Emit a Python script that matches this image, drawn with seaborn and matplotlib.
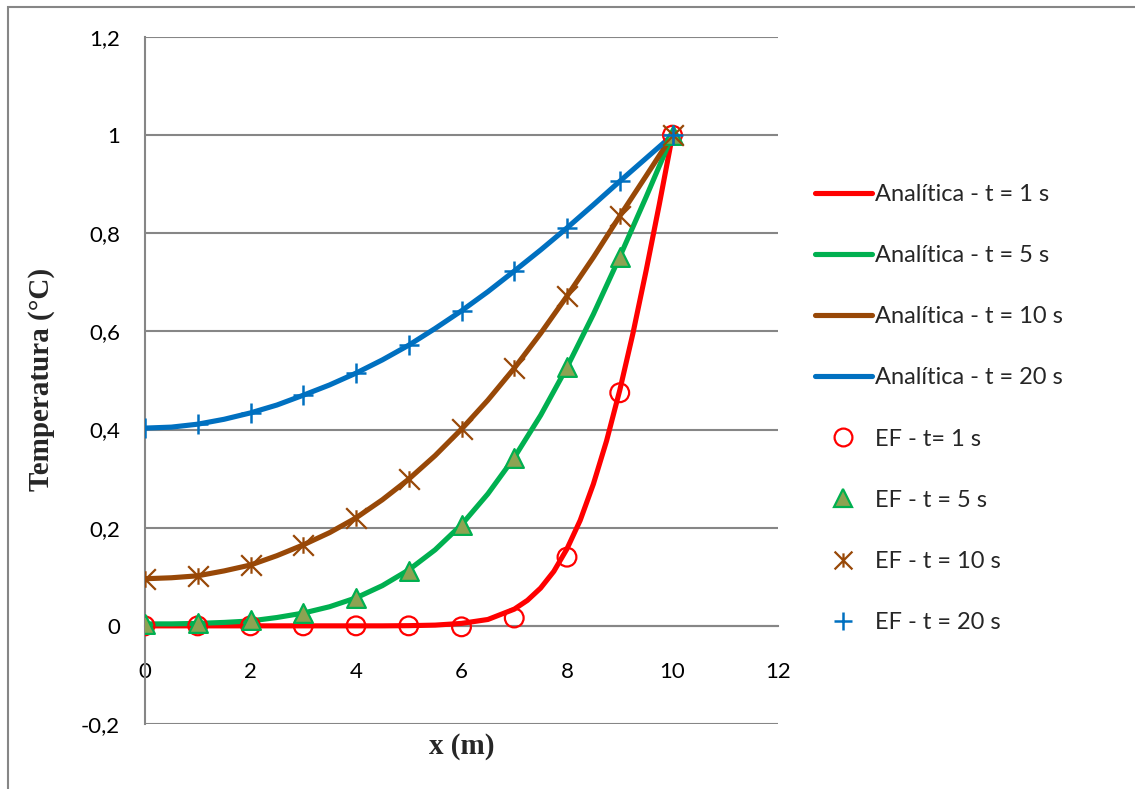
import numpy as np
import pandas as pd
import matplotlib
matplotlib.use("Agg")
import matplotlib.pyplot as plt
from matplotlib.lines import Line2D
from matplotlib.path import Path
from matplotlib.patches import Rectangle
import seaborn as sns

# ---------------- data ----------------
x_an = [0, 0.5, 1, 1.5, 2, 2.5, 3, 3.5, 4, 4.5, 5, 5.5, 6, 6.5, 7, 7.5, 8, 8.5, 9, 9.5, 10]
x_an1 = [0, 0.5, 1, 1.5, 2, 2.5, 3, 3.5, 4, 4.5, 5, 5.5, 6, 6.5, 7, 7.25, 7.5, 7.75,
         8, 8.25, 8.5, 8.75, 9, 9.25, 9.5, 9.75, 10]
an_t1 = [0, 0, 0, 0, 0, 0, 0, 0, 0, 0, 0.0004, 0.0015, 0.005, 0.013, 0.034, 0.052, 0.077, 0.111,
         0.157, 0.215, 0.289, 0.377, 0.480, 0.596, 0.724, 0.859, 1.0]
an_t5 = [0.004, 0.004, 0.005, 0.007, 0.010, 0.017, 0.026, 0.039, 0.057, 0.082, 0.114, 0.155,
         0.206, 0.269, 0.343, 0.429, 0.527, 0.635, 0.752, 0.874, 1.0]
an_t10 = [0.096, 0.098, 0.102, 0.112, 0.124, 0.143, 0.165, 0.190, 0.220, 0.257, 0.299, 0.347,
          0.401, 0.460, 0.525, 0.596, 0.672, 0.751, 0.835, 0.917, 1.0]
an_t20 = [0.403, 0.405, 0.411, 0.421, 0.434, 0.450, 0.470, 0.491, 0.515, 0.542, 0.572, 0.606,
          0.642, 0.681, 0.723, 0.766, 0.811, 0.858, 0.906, 0.953, 1.0]

x_ef = [0, 1, 2, 3, 4, 5, 6, 7, 8, 9, 10]
ef_t1 = [0.0, 0.0, 0.0, 0.0, 0.0, 0.0, -0.002, 0.016, 0.140, 0.475, 1.0]
ef_t5 = [0.004, 0.005, 0.012, 0.026, 0.057, 0.112, 0.206, 0.342, 0.527, 0.752, 1.0]
ef_t10 = [0.096, 0.102, 0.124, 0.165, 0.220, 0.299, 0.401, 0.525, 0.672, 0.835, 1.0]
ef_t20 = [0.403, 0.411, 0.434, 0.470, 0.515, 0.572, 0.642, 0.723, 0.811, 0.906, 1.0]

an_labels = ["Analítica - t = 1 s", "Analítica - t = 5 s", "Analítica - t = 10 s", "Analítica - t = 20 s"]
ef_labels = ["EF - t= 1 s", "EF - t = 5 s", "EF - t = 10 s", "EF - t = 20 s"]

y_ticks = [-0.2, 0, 0.2, 0.4, 0.6, 0.8, 1, 1.2]
y_ticklabels = ["-0,2", "0", "0,2", "0,4", "0,6", "0,8", "1", "1,2"]
x_ticks = [0, 2, 4, 6, 8, 10, 12]
x_ticklabels = ["0", "2", "4", "6", "8", "10", "12"]

xlabel = "x (m)"
ylabel = "Temperatura (°C)"

# ---------------- style ----------------
sns.set_theme(style="white")
plt.rcParams['font.family'] = ['Lato', 'DejaVu Sans']

RED = "#FF0000"
GREEN = "#00B050"
BROWN = "#984807"
BLUE = "#0070C0"
OLIVE = "#8CA352"
GRID = "#868686"

star_path = Path([(-1, -1), (1, 1), (-1, 1), (1, -1), (0, -0.8), (0, 0.8)],
                 [Path.MOVETO, Path.LINETO, Path.MOVETO, Path.LINETO, Path.MOVETO, Path.LINETO])

fig = plt.figure(figsize=(11.35, 7.89), dpi=100)
ax = fig.add_axes([145 / 1135, 1 - 724 / 789, (778 - 145) / 1135, (724 - 37) / 789])

lw = 3.7
an_series = [(x_an1, an_t1, RED), (x_an, an_t5, GREEN), (x_an, an_t10, BROWN), (x_an, an_t20, BLUE)]
for (xs, ys, c), lab in zip(an_series, an_labels):
    df = pd.DataFrame({"x": xs, "y": ys})
    sns.lineplot(data=df, x="x", y="y", ax=ax, color=c, linewidth=lw, sort=False,
                 solid_capstyle="round", zorder=3, legend=False)

ms = 13.5
# EF t=1 : open circles
sns.scatterplot(x=x_ef, y=ef_t1, ax=ax, marker="o", s=ms**2, facecolors="none",
                edgecolor=RED, linewidth=1.6, zorder=4, legend=False)
# EF t=5 : triangles
sns.scatterplot(x=x_ef, y=ef_t5, ax=ax, marker="^", s=ms**2, color=OLIVE,
                edgecolor=GREEN, linewidth=1.6, zorder=5, legend=False)
# EF t=10 : star (x with vertical bar)
sns.scatterplot(x=x_ef, y=ef_t10, ax=ax, marker=star_path, s=(ms * 1.1)**2, color=BROWN,
                edgecolor=BROWN, linewidth=1.6, zorder=6, legend=False)
# EF t=20 : plus
sns.scatterplot(x=x_ef, y=ef_t20, ax=ax, marker="+", s=(ms * 1.05)**2, color=BLUE,
                edgecolor=BLUE, linewidth=1.8, zorder=7, legend=False)

ax.set_xlim(0, 12)
ax.set_ylim(-0.2, 1.2)
ax.set_yticks(y_ticks)
ax.set_yticklabels(y_ticklabels)
ax.set_xticks(x_ticks)
ax.set_xticklabels(x_ticklabels)

for v in y_ticks:
    ax.axhline(v, color=GRID, lw=1.5, zorder=1)

for s in ["top", "right"]:
    ax.spines[s].set_visible(False)
ax.spines["bottom"].set_position(("data", 0))
for s in ["left", "bottom"]:
    ax.spines[s].set_color(GRID)
    ax.spines[s].set_linewidth(1.5)
    ax.spines[s].set_zorder(2)

ax.tick_params(axis="both", which="major", direction="out", length=6, width=1.5,
               color=GRID, labelsize=16, labelcolor="black")
ax.tick_params(axis="y", pad=12)
ax.tick_params(axis="x", pad=20)

ax.set_xlabel("")
ax.set_ylabel("")
fig.text(462 / 1135, 1 - 747 / 789, xlabel, ha="center", va="center",
         fontsize=21, fontweight="bold", family="Liberation Serif")
fig.text(42 / 1135, 1 - 379 / 789, ylabel, ha="center", va="center", rotation=90,
         fontsize=21, fontweight="bold", family="Liberation Serif")

# legend
handles = [Line2D([], [], color=c, lw=lw, solid_capstyle="round") for c in [RED, GREEN, BROWN, BLUE]]
handles += [
    Line2D([], [], ls="none", marker="o", ms=ms * 0.95, mfc="none", mec=RED, mew=1.6),
    Line2D([], [], ls="none", marker="^", ms=ms * 0.95, mfc=OLIVE, mec=GREEN, mew=1.6),
    Line2D([], [], ls="none", marker=star_path, ms=ms * 0.95, color=BROWN, mew=1.6),
    Line2D([], [], ls="none", marker="+", ms=ms * 0.95, color=BLUE, mew=1.8),
]
leg = fig.legend(handles, an_labels + ef_labels, loc="upper left",
                 bbox_to_anchor=(815 / 1135, 1 - 184 / 789), frameon=False,
                 fontsize=17, handlelength=2.4, handletextpad=0.15, labelspacing=1.70,
                 borderaxespad=0, borderpad=0)

# outer chart frame (left and top edges visible)
fig.add_artist(Rectangle((8 / 1135, -0.1), 2, 1 - 7 / 789 + 0.1, transform=fig.transFigure,
                         fill=False, ec=GRID, lw=1.5))

fig.savefig("out.png", dpi=100)
